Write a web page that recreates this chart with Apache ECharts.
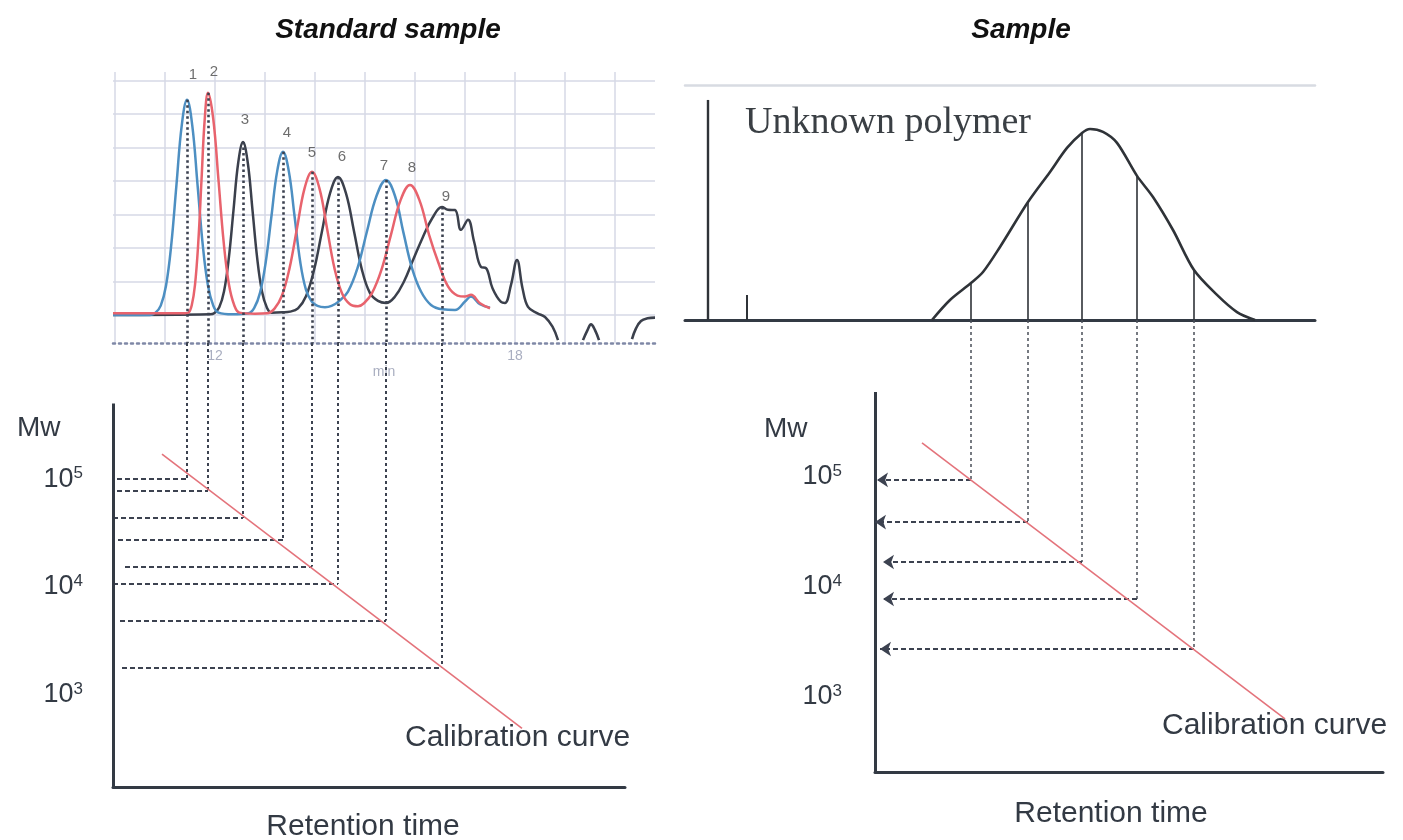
<!DOCTYPE html>
<html>
<head>
<meta charset="utf-8">
<script src="https://cdn.jsdelivr.net/npm/echarts@6/dist/echarts.min.js"></script>
<style>
  html, body { margin: 0; padding: 0; background: #fff; }
  #chart { width: 1403px; height: 840px; }
</style>
</head>
<body>
<div id="chart"></div>
<script>
// ---- standard sample chromatogram: [retention time (min), signal] ----
const blueTrace = [
  [9.96, 0], [10.7, 0], [10.81, 0.07], [10.915, 0.28], [11.02, 0.87], [11.125, 2.09], [11.23, 3.9],
  [11.335, 5.66], [11.44, 6.42], [11.545, 5.66], [11.65, 3.9], [11.755, 2.09], [11.86, 0.87], [11.965, 0.28],
  [12.07, 0.07], [12.35, 0.02], [12.67, 0.05], [12.785, 0.21], [12.9, 0.66], [13.015, 1.58], [13.13, 2.96],
  [13.245, 4.3], [13.36, 4.87], [13.475, 4.3], [13.59, 2.96], [13.705, 1.58], [13.82, 0.75], [13.935, 0.4],
  [14.05, 0.27], [14.2, 0.23], [14.33, 0.27], [14.47, 0.4], [14.66, 0.7], [14.85, 1.4], [15.04, 2.5],
  [15.23, 3.55], [15.42, 4.03], [15.6, 3.55], [15.77, 2.45], [15.94, 1.4], [16.12, 0.7], [16.32, 0.3],
  [16.55, 0.17], [16.8, 0.15], [17.0, 0.4], [17.12, 0.55], [17.3, 0.32], [17.5, 0.22]
];
const redTrace = [
  [9.96, 0.05], [11.4, 0.05], [11.47, 0.07], [11.535, 0.29], [11.6, 0.9], [11.665, 2.15], [11.73, 4.02],
  [11.795, 5.85], [11.86, 6.63], [11.965, 5.85], [12.07, 4.02], [12.175, 2.15], [12.28, 0.9], [12.385, 0.29],
  [12.49, 0.07], [12.8, 0.04], [13.04, 0.05], [13.19, 0.19], [13.34, 0.58], [13.49, 1.39], [13.64, 2.59],
  [13.79, 3.77], [13.94, 4.27], [14.09, 3.77], [14.24, 2.59], [14.39, 1.39], [14.54, 0.65], [14.7, 0.32],
  [14.86, 0.26], [14.98, 0.35], [15.14, 0.65], [15.33, 1.35], [15.52, 2.4], [15.71, 3.42], [15.9, 3.88],
  [16.09, 3.42], [16.28, 2.4], [16.47, 1.55], [16.66, 0.85], [16.85, 0.58], [17.0, 0.55], [17.12, 0.6],
  [17.3, 0.35], [17.5, 0.2]
];
const blackTrace = [
  [9.96, 0], [11.9, 0.02], [11.99, 0.06], [12.085, 0.23], [12.18, 0.7], [12.275, 1.68], [12.37, 3.13],
  [12.465, 4.55], [12.56, 5.16], [12.655, 4.55], [12.75, 3.13], [12.845, 1.68], [12.94, 0.7], [13.035, 0.23],
  [13.13, 0.07], [13.35, 0.08], [13.5, 0.1], [13.66, 0.2], [13.82, 0.56], [13.98, 1.34], [14.14, 2.5],
  [14.3, 3.63], [14.46, 4.12], [14.62, 3.63], [14.78, 2.5], [14.94, 1.34], [15.1, 0.65], [15.26, 0.42],
  [15.42, 0.36], [15.6, 0.55], [15.78, 1.0], [15.95, 1.6], [16.15, 2.3], [16.35, 2.9], [16.54, 3.22],
  [16.66, 3.14], [16.8, 3.13], [16.92, 2.54], [17.06, 2.84], [17.18, 2.2], [17.32, 1.43], [17.42, 1.4],
  [17.55, 0.8], [17.72, 0.39], [17.8, 0.36], [17.92, 0.9], [18.04, 1.64], [18.15, 0.8], [18.26, 0.24],
  [18.45, 0.05], [18.6, -0.06], [18.75, -0.35], [18.86, -0.75]
];
const blackTailBits = [
  [[19.36, -0.75], [19.45, -0.45], [19.52, -0.28], [19.6, -0.45], [19.68, -0.75]],
  [[20.34, -0.72], [20.42, -0.4], [20.52, -0.18], [20.65, -0.1], [20.8, -0.08]]
];
const peakNames = ['1', '2', '3', '4', '5', '6', '7', '8', '9'];
const peakNamePos = [
  [11.56, 7.16], [11.98, 7.25], [12.6, 5.82], [13.44, 5.43], [13.94, 4.84],
  [14.54, 4.72], [15.38, 4.45], [15.94, 4.39], [16.62, 3.52]
];
const minuteGrid = [10, 11, 12, 13, 14, 15, 16, 17, 18, 19, 20];
const minuteLabels = [12, 18];
const signalGrid = [0, 1, 2, 3, 4, 5, 6, 7];

// peaks carried down to the standard calibration curve
const markedTimes = [11.44, 11.86, 12.56, 13.36, 13.94, 14.46, 15.42, 16.54];
const markedHeights = [6.42, 6.63, 5.16, 4.87, 4.27, 4.12, 4.03, 3.22];
const markedLogMw = [5.0, 4.89, 4.64, 4.44, 4.19, 4.03, 3.69, 3.25];
const dashStartTimes = [10.04, 10.04, 9.96, 10.06, 10.2, 9.96, 10.1, 10.14];
const stdCalibration = [[10.94, 5.23], [18.14, 2.69]];

// ---- unknown sample ----
const sampleCurve = [
  [4.94, 0], [5.3, 0.91], [5.72, 1.68], [5.96, 2.18], [6.3, 3.32], [6.86, 5.36], [7.3, 6.73],
  [7.64, 7.82], [7.94, 8.5], [8.1, 8.68], [8.36, 8.55], [8.64, 8.05], [9.04, 6.55], [9.36, 5.59],
  [9.76, 4.09], [10.18, 2.27], [10.64, 1.14], [11.04, 0.36], [11.4, 0]
];
const sliceTimes = [5.72, 6.86, 7.94, 9.04, 10.18];
const sliceHeights = [1.68, 5.36, 8.5, 6.55, 2.27];
const sliceLogMw = [4.973, 4.59, 4.227, 3.891, 3.436];
const arrowTipTimes = [3.84, 3.8, 3.96, 3.96, 3.9];
const sampleCalibration = [[4.74, 5.309], [12.0, 2.8]];
const injectionMarker = [[0.46, 0], [0.46, 10]];
const solventSpike = [[1.24, 0], [1.24, 1.14]];

const mwTicks = [3, 4, 5];

const FONT = '"Liberation Sans", Arial, sans-serif';
const INK = '#333a44';
const DOT = '#3c4250';

const chart = echarts.init(document.getElementById('chart'));

const mwLabel = {
  customValues: mwTicks,
  formatter: v => '{b|10}{s|' + v + '}',
  rich: {
    b: { fontSize: 27, color: INK, fontFamily: FONT },
    s: { fontSize: 17, color: INK, fontFamily: FONT, padding: [0, 0, 11, 0] }
  }
};

const plainText = (size) => ({ fontFamily: FONT, fontSize: size, fontWeight: 'normal', color: INK });

const option = {
  animation: false,
  backgroundColor: '#fff',
  title: [
    { text: 'Standard sample', left: 383, top: 11, textAlign: 'center',
      textStyle: { fontFamily: FONT, fontSize: 28, fontWeight: 'bold', fontStyle: 'italic', color: '#111' } },
    { text: 'Sample', left: 1016, top: 11, textAlign: 'center',
      textStyle: { fontFamily: FONT, fontSize: 28, fontWeight: 'bold', fontStyle: 'italic', color: '#111' } },
    { text: 'Unknown polymer', left: 740, top: 99,
      textStyle: { fontFamily: '"Liberation Serif", "Times New Roman", serif', fontSize: 38, fontWeight: 'normal', color: '#3a3f44' } },
    { text: 'Mw', left: 12, top: 409, textStyle: plainText(28) },
    { text: 'Mw', left: 759, top: 410, textStyle: plainText(28) },
    { text: 'Calibration curve', left: 400, top: 718, textStyle: plainText(30) },
    { text: 'Calibration curve', left: 1157, top: 706, textStyle: plainText(30) },
    { text: 'Retention time', left: 358, top: 807, textAlign: 'center', textStyle: plainText(30) },
    { text: 'Retention time', left: 1106, top: 794, textAlign: 'center', textStyle: plainText(30) }
  ],
  grid: [
    { left: 113, top: 72, width: 542, height: 271 },
    { left: 113, top: 343, width: 512, height: 444 },
    { left: 685, top: 85, width: 630, height: 235 },
    { left: 875, top: 320, width: 508, height: 452 }
  ],
  xAxis: [
    {
      gridIndex: 0, type: 'value', min: 9.96, max: 20.8,
      name: 'min', nameLocation: 'middle', nameGap: 22,
      nameTextStyle: { color: '#a9aec0', fontSize: 14, fontFamily: FONT },
      axisLine: { onZero: false, lineStyle: { color: '#7f88a6', width: 2.5, type: [2, 4] } },
      axisTick: { show: false, customValues: minuteGrid },
      axisLabel: { customValues: minuteLabels, color: '#a9aec0', fontSize: 14, margin: 6, fontFamily: FONT },
      splitLine: { show: true, lineStyle: { color: '#d6d9e6', width: 1.5 } }
    },
    {
      gridIndex: 1, type: 'value', min: 9.96, max: 20.2,
      axisLine: { onZero: false, lineStyle: { color: INK, width: 3 } },
      axisTick: { show: false }, axisLabel: { show: false }, splitLine: { show: false }
    },
    {
      gridIndex: 2, type: 'value', min: 0, max: 12.6,
      axisLine: { onZero: false, lineStyle: { color: INK, width: 3 } },
      axisTick: { show: false }, axisLabel: { show: false }, splitLine: { show: false }
    },
    {
      gridIndex: 2, type: 'value', min: 0, max: 12.6, position: 'top',
      axisLine: { onZero: false, lineStyle: { color: '#d8dbe2', width: 2.5 } },
      axisTick: { show: false }, axisLabel: { show: false }, splitLine: { show: false }
    },
    {
      gridIndex: 3, type: 'value', min: 3.8, max: 13.96,
      axisLine: { onZero: false, lineStyle: { color: INK, width: 3 } },
      axisTick: { show: false }, axisLabel: { show: false }, splitLine: { show: false }
    }
  ],
  yAxis: [
    {
      gridIndex: 0, type: 'value', min: -0.836, max: 7.25,
      axisLine: { show: false },
      axisTick: { show: false, customValues: signalGrid },
      axisLabel: { show: false },
      splitLine: { show: true, lineStyle: { color: '#d6d9e6', width: 1.5 } }
    },
    {
      gridIndex: 1, type: 'value', min: 2.148, max: 6.26,
      axisLine: { show: false }, axisTick: { show: false }, splitLine: { show: false },
      axisLabel: Object.assign({ margin: 30 }, mwLabel)
    },
    {
      gridIndex: 2, type: 'value', min: 0, max: 10.68,
      axisLine: { show: false }, axisTick: { show: false }, axisLabel: { show: false }, splitLine: { show: false }
    },
    {
      gridIndex: 3, type: 'value', min: 2.318, max: 6.427,
      axisLine: { show: false }, axisTick: { show: false }, splitLine: { show: false },
      axisLabel: Object.assign({ margin: 33 }, mwLabel)
    }
  ],
  series: [
    // chromatogram traces
    { type: 'line', xAxisIndex: 0, yAxisIndex: 0, data: blackTrace, smooth: 0.4,
      showSymbol: false, lineStyle: { color: '#3b404c', width: 2.5 } },
    { type: 'line', xAxisIndex: 0, yAxisIndex: 0, data: blueTrace, smooth: 0.4,
      showSymbol: false, lineStyle: { color: '#4d8fc2', width: 2.5 } },
    { type: 'line', xAxisIndex: 0, yAxisIndex: 0, data: redTrace, smooth: 0.4,
      showSymbol: false, lineStyle: { color: '#e8636d', width: 2.5 } },
    ...blackTailBits.map(bit => ({
      type: 'line', xAxisIndex: 0, yAxisIndex: 0, data: bit, smooth: 0.4,
      showSymbol: false, lineStyle: { color: '#3b404c', width: 2.6 }
    })),
    { type: 'scatter', xAxisIndex: 0, yAxisIndex: 0, symbolSize: 0,
      data: peakNamePos.map((p, i) => [p[0], p[1], peakNames[i]]),
      label: { show: true, position: 'inside', formatter: p => p.value[2], color: '#4a4a4a', fontSize: 15, fontFamily: FONT } },
    // dotted drops from the peaks
    { type: 'lines', coordinateSystem: 'cartesian2d', xAxisIndex: 0, yAxisIndex: 0,
      data: markedTimes.map((t, i) => ({ coords: [[t, markedHeights[i]], [t, -0.836]] })),
      lineStyle: { color: DOT, width: 2.6, type: [2.5, 3], opacity: 1 }, z: 5 },
    { type: 'lines', coordinateSystem: 'cartesian2d', xAxisIndex: 1, yAxisIndex: 1, clip: false,
      data: markedTimes.map((t, i) => ({ coords: [[t, 6.26], [t, markedLogMw[i]]] })),
      lineStyle: { color: DOT, width: 2, type: [3, 3], opacity: 1 } },
    { type: 'lines', coordinateSystem: 'cartesian2d', xAxisIndex: 1, yAxisIndex: 1, clip: false,
      data: markedTimes.map((t, i) => ({ coords: [[dashStartTimes[i], markedLogMw[i]], [t, markedLogMw[i]]] })),
      lineStyle: { color: DOT, width: 2, type: [5, 3], opacity: 1 } },
    // standard calibration
    { type: 'lines', coordinateSystem: 'cartesian2d', xAxisIndex: 1, yAxisIndex: 1, clip: false,
      data: [{ coords: [[9.96, 5.7], [9.96, 2.148]] }],
      lineStyle: { color: INK, width: 3, opacity: 1 } },
    { type: 'line', xAxisIndex: 1, yAxisIndex: 1, data: stdCalibration, showSymbol: false,
      lineStyle: { color: '#e4737b', width: 1.6 }, z: 6 },

    // unknown polymer
    { type: 'line', xAxisIndex: 2, yAxisIndex: 2, data: sampleCurve, smooth: 0.3, showSymbol: false,
      lineStyle: { color: '#2f3338', width: 2.6 } },
    { type: 'lines', coordinateSystem: 'cartesian2d', xAxisIndex: 2, yAxisIndex: 2, clip: false,
      data: [{ coords: injectionMarker }], lineStyle: { color: '#2f3338', width: 2.4, opacity: 1 } },
    { type: 'lines', coordinateSystem: 'cartesian2d', xAxisIndex: 2, yAxisIndex: 2, clip: false,
      data: [{ coords: solventSpike }], lineStyle: { color: '#2f3338', width: 2, opacity: 1 } },
    { type: 'lines', coordinateSystem: 'cartesian2d', xAxisIndex: 2, yAxisIndex: 2,
      data: sliceTimes.map((t, i) => ({ coords: [[t, 0], [t, sliceHeights[i]]] })),
      lineStyle: { color: '#2f3338', width: 1.6, opacity: 1 } },
    // sample calibration
    { type: 'lines', coordinateSystem: 'cartesian2d', xAxisIndex: 4, yAxisIndex: 3, clip: false,
      data: [{ coords: [[3.8, 5.773], [3.8, 2.318]] }],
      lineStyle: { color: INK, width: 3, opacity: 1 } },
    { type: 'lines', coordinateSystem: 'cartesian2d', xAxisIndex: 4, yAxisIndex: 3, clip: false,
      data: sliceTimes.map((t, i) => ({ coords: [[t, 6.427], [t, sliceLogMw[i]]] })),
      lineStyle: { color: '#4a4f58', width: 1.5, type: [3, 3], opacity: 1 } },
    { type: 'lines', coordinateSystem: 'cartesian2d', xAxisIndex: 4, yAxisIndex: 3, clip: false,
      symbol: ['none', 'arrow'], symbolSize: 11,
      data: sliceTimes.map((t, i) => ({ coords: [[t, sliceLogMw[i]], [arrowTipTimes[i], sliceLogMw[i]]] })),
      lineStyle: { color: DOT, width: 2, type: [5, 3], opacity: 1 } },
    { type: 'line', xAxisIndex: 4, yAxisIndex: 3, data: sampleCalibration, showSymbol: false,
      lineStyle: { color: '#e4737b', width: 1.6 }, z: 6 }
  ]
};

chart.setOption(option);
</script>
</body>
</html>
